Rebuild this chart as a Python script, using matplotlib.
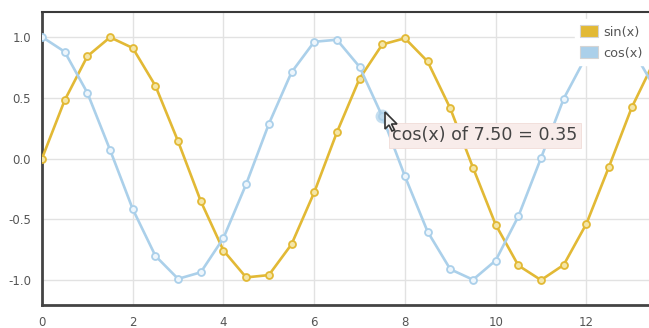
import matplotlib
matplotlib.use("Agg")
import matplotlib.pyplot as plt
from matplotlib.patches import Patch, Polygon

# Sample positions and the two series
x_vals = [0.0, 0.5, 1.0, 1.5, 2.0, 2.5, 3.0, 3.5, 4.0, 4.5, 5.0, 5.5, 6.0, 6.5,
          7.0, 7.5, 8.0, 8.5, 9.0, 9.5, 10.0, 10.5, 11.0, 11.5, 12.0, 12.5,
          13.0, 13.5, 14.0]
sin_vals = [0.000, 0.479, 0.841, 0.997, 0.909, 0.598, 0.141, -0.351, -0.757,
            -0.978, -0.959, -0.706, -0.279, 0.215, 0.657, 0.938, 0.989, 0.798,
            0.412, -0.075, -0.544, -0.880, -1.000, -0.875, -0.537, -0.066,
            0.420, 0.804, 0.991]
cos_vals = [1.000, 0.878, 0.540, 0.071, -0.416, -0.801, -0.990, -0.936, -0.654,
            -0.211, 0.284, 0.709, 0.960, 0.977, 0.754, 0.347, -0.146, -0.602,
            -0.911, -0.997, -0.839, -0.476, 0.004, 0.492, 0.844, 0.998, 0.907,
            0.585, 0.137]
series_labels = ["sin(x)", "cos(x)"]
x_ticks = [0, 2, 4, 6, 8, 10, 12]
y_ticks = [-1.0, -0.5, 0.0, 0.5, 1.0]
hover_index = 15

SIN_COLOR = "#e2b935"
COS_COLOR = "#abd0ea"
TEXT_COLOR = "#555555"

fig = plt.figure(figsize=(6.49, 3.28), dpi=100)
ax = fig.add_axes([42 / 649, 23 / 328, 1 - 42 / 649, (305 - 12) / 328])

ax.set_xlim(0, 13.38)
ax.set_ylim(-1.205, 1.205)

ax.plot(x_vals, sin_vals, color=SIN_COLOR, lw=1.9, marker="o", ms=5,
        mfc="#f4e6a8", mec=SIN_COLOR, mew=1.3, zorder=3, clip_on=True)
ax.plot(x_vals, cos_vals, color=COS_COLOR, lw=1.9, marker="o", ms=5,
        mfc="#eef6fc", mec=COS_COLOR, mew=1.3, zorder=3, clip_on=True)

# hovered point highlight
hx, hy = x_vals[hover_index], cos_vals[hover_index]
ax.plot([hx], [hy], marker="o", ms=10, color=COS_COLOR, alpha=0.7,
        mec="none", zorder=4)

# grid and frame
ax.set_xticks(x_ticks)
ax.set_yticks(y_ticks)
ax.set_xticklabels([str(t) for t in x_ticks])
ax.set_yticklabels([f"{t:.1f}" for t in y_ticks])
ax.grid(True, color="#e2e2e2", lw=1.0, zorder=0)
ax.set_axisbelow(True)
ax.tick_params(length=0, labelsize=8.5, colors=TEXT_COLOR, pad=8)
for side in ("left", "bottom"):
    ax.spines[side].set_color("#444444")
    ax.spines[side].set_linewidth(2.0)
ax.spines["top"].set_color("#3a3a3a")
ax.spines["top"].set_linewidth(1.5)
ax.spines["right"].set_visible(False)

# legend
handles = [Patch(facecolor=SIN_COLOR, edgecolor="#d4d4d4", lw=0.8),
           Patch(facecolor=COS_COLOR, edgecolor="#d4d4d4", lw=0.8)]
leg = ax.legend(handles, series_labels, loc="upper right",
                bbox_to_anchor=(1.0, 0.975), frameon=True, fancybox=False,
                fontsize=9.3, labelcolor=TEXT_COLOR, handlelength=1.35,
                handleheight=1.05, handletextpad=0.45, labelspacing=0.6,
                borderpad=0.45, borderaxespad=0.0)
leg.get_frame().set_facecolor("white")
leg.get_frame().set_edgecolor("white")
leg.get_frame().set_alpha(1.0)
leg.set_zorder(6)

# tooltip
ax.annotate(f"cos(x) of {hx:.2f} = {hy:.2f}", xy=(hx, hy),
            xytext=(10, -10), textcoords="offset pixels", ha="left", va="top",
            fontsize=12.6, color="#444444", zorder=7,
            bbox=dict(boxstyle="square,pad=0.2", facecolor="#f8ecea",
                      edgecolor="#f1dcd8", lw=0.6))

# mouse pointer
tip_x, tip_y = 385, 112
shape = [(0, 0), (0, 17), (4, 13), (7, 19), (9.5, 18), (6.5, 12), (12, 12)]
pts = [((tip_x + dx) / 649, 1 - (tip_y + dy) / 328) for dx, dy in shape]
fig.patches.append(Polygon(pts, closed=True, transform=fig.transFigure,
                           facecolor="#f4f4f4", edgecolor="#333333", lw=1.2,
                           zorder=10))

fig.savefig("out.png", dpi=100)
